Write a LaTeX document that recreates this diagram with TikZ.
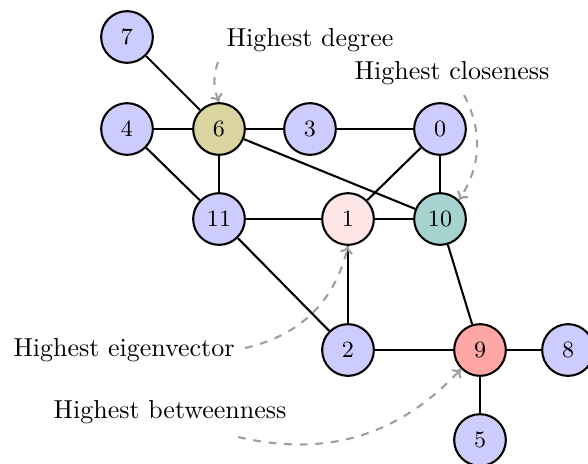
\documentclass[tikz,border=0pt]{standalone}
\usetikzlibrary{arrows.meta}
\definecolor{vblue}{RGB}{204,204,255}
\definecolor{vdeg}{RGB}{217,212,160}
\definecolor{vclose}{RGB}{166,210,208}
\definecolor{vbetw}{RGB}{255,166,166}
\definecolor{veig}{RGB}{255,230,230}
\begin{document}
\begin{tikzpicture}[x=0.385pt,y=-0.385pt,
  vert/.style={circle,draw,thick,fill=vblue,minimum size=19.9pt,inner sep=0pt,font=\small},
  edge/.style={thick},
  note/.style={font=\normalsize,inner sep=0pt},
  pointer/.style={dashed,thick,black!38,-{To[length=3pt,width=5pt]}}]
\useasboundingbox (0,0) rectangle (588,463);
\node[vert] (n7) at (127,37) {7};
\node[vert,fill=vdeg] (n6) at (219,129) {6};
\node[vert] (n4) at (127,129) {4};
\node[vert] (n3) at (310,129) {3};
\node[vert] (n0) at (440,129) {0};
\node[vert] (n11) at (219,219) {11};
\node[vert,fill=veig] (n1) at (348,219) {1};
\node[vert,fill=vclose] (n10) at (440,219) {10};
\node[vert] (n2) at (348,350) {2};
\node[vert,fill=vbetw] (n9) at (480,350) {9};
\node[vert] (n8) at (568,350) {8};
\node[vert] (n5) at (480,440) {5};
\draw[edge] (n7) -- (n6);
\draw[edge] (n4) -- (n6);
\draw[edge] (n6) -- (n3);
\draw[edge] (n3) -- (n0);
\draw[edge] (n4) -- (n11);
\draw[edge] (n6) -- (n11);
\draw[edge] (n6) -- (n10);
\draw[edge] (n0) -- (n1);
\draw[edge] (n0) -- (n10);
\draw[edge] (n11) -- (n1);
\draw[edge] (n1) -- (n10);
\draw[edge] (n11) -- (n2);
\draw[edge] (n1) -- (n2);
\draw[edge] (n2) -- (n9);
\draw[edge] (n10) -- (n9);
\draw[edge] (n9) -- (n8);
\draw[edge] (n9) -- (n5);
\node[note] (tdeg) at (310,40) {Highest degree};
\node[note] (tclo) at (452,73) {Highest closeness};
\node[note] (teig) at (124,350) {Highest eigenvector};
\node[note] (tbet) at (170,412) {Highest betweenness};
\coordinate (sdeg) at (218,62);
\coordinate (sclo) at (464,95);
\coordinate (seig) at (245,348);
\coordinate (sbet) at (238,437);
\draw[pointer] (sdeg) to[bend right=20] (n6.north);
\draw[pointer] (sclo) to[bend left=30] (n10.north east);
\draw[pointer] (seig) to[bend right=32] (n1.south);
\draw[pointer] (sbet) to[bend right=30] (n9.south west);
\end{tikzpicture}
\end{document}
